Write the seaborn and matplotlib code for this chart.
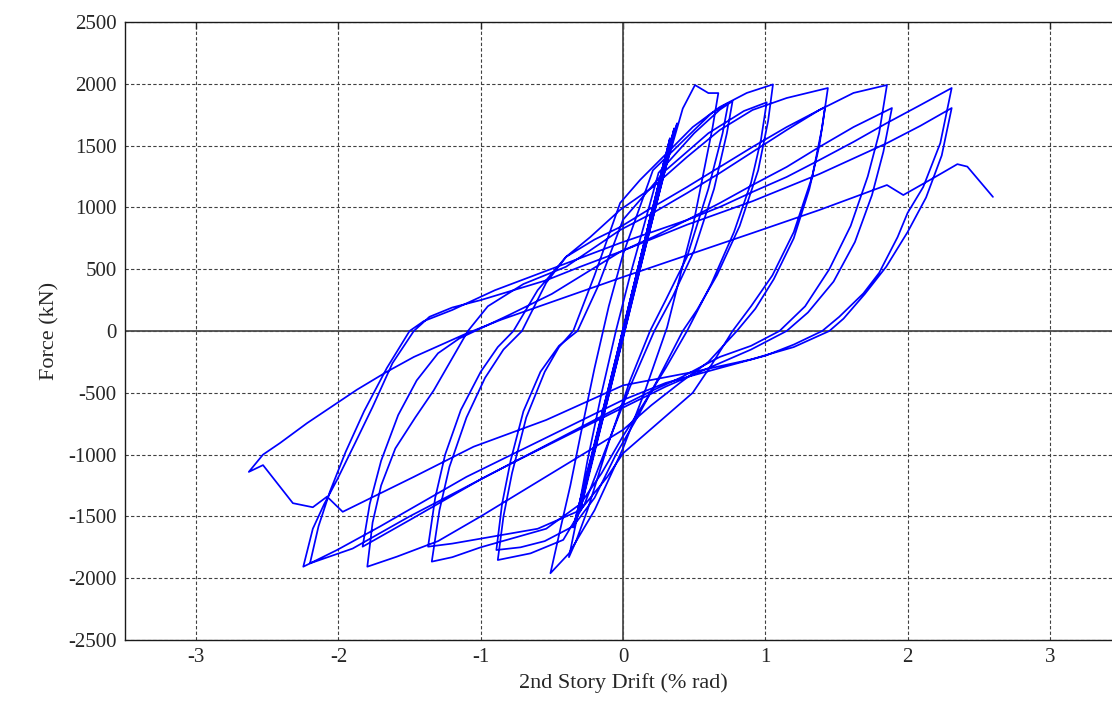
import numpy as np
import pandas as pd
import matplotlib
matplotlib.use('Agg')
import matplotlib.pyplot as plt
import seaborn as sns

# drift (% rad), force (kN), in loading order
elastic = [(0, 0), (0.12, 560), (0.09, 410), (-0.1, -470), (-0.07, -330),
           (0.2, 960), (0.16, 760), (-0.19, -900), (-0.15, -700),
           (0.29, 1380), (0.24, 1130), (-0.28, -1330), (-0.22, -1060),
           (0.33, 1560), (0.27, 1280), (-0.33, -1530), (-0.27, -1250),
           (0.36, 1640), (0.3, 1370), (-0.35, -1590), (-0.28, -1280),
           (0.38, 1680), (0.31, 1390), (-0.3, -1450), (-0.24, -1150)]

# positive excursions (reload from previous negative peak up to positive peak)
up_01 = [(-0.1, -520), (0.0, -60), (0.15, 640), (0.3, 1320), (0.42, 1800), (0.506, 1990),
         (0.6, 1925), (0.67, 1925)]
up_02 = [(-0.44, -1600), (-0.37, -1250), (-0.3, -850), (-0.2, -300), (-0.1, 200), (0.0, 620),
         (0.21, 1300), (0.45, 1570), (0.62, 1760), (0.74, 1845)]
up_03 = [(-0.33, -1550), (-0.25, -1050), (-0.15, -500), (-0.05, 0), (0.05, 450), (0.25, 1280),
         (0.5, 1600), (0.68, 1790), (0.77, 1860)]
up_04 = [(-0.84, -1500), (-0.78, -1150), (-0.68, -700), (-0.55, -330), (-0.45, -130), (-0.35, 0),
         (-0.2, 450), (-0.02, 1036), (0.12, 1222), (0.33, 1464), (0.49, 1650), (0.68, 1812),
         (0.87, 1926), (1.054, 1995)]
up_05 = [(-0.85, -1400), (-0.79, -1050), (-0.7, -650), (-0.58, -330), (-0.45, -120), (-0.32, 0),
         (-0.18, 350), (0.0, 900), (0.3, 1300), (0.6, 1600), (0.85, 1780), (1.01, 1850)]
up_06 = [(-1.29, -1450), (-1.22, -1100), (-1.1, -700), (-0.97, -380), (-0.84, -150), (-0.71, 0),
         (-0.54, 390), (-0.4, 600), (-0.23, 760), (-0.02, 980), (0.21, 1165), (0.45, 1408),
         (0.68, 1626), (0.91, 1788), (1.15, 1885), (1.44, 1966)]
up_07 = [(-1.32, -1350), (-1.25, -1000), (-1.14, -640), (-1.0, -330), (-0.88, -130), (-0.77, 0),
         (-0.6, 330), (-0.4, 600), (-0.2, 740), (-0.02, 841), (0.21, 1003), (0.45, 1165),
         (0.68, 1327), (0.91, 1489), (1.15, 1650), (1.42, 1812)]
up_08 = [(-1.76, -1550), (-1.7, -1250), (-1.6, -950), (-1.46, -700), (-1.33, -480), (-1.2, -220),
         (-1.09, 0), (-0.95, 200), (-0.7, 380), (-0.4, 520), (-0.02, 817), (0.21, 955),
         (0.45, 1116), (0.68, 1278), (0.91, 1448), (1.15, 1626), (1.38, 1788), (1.62, 1926),
         (1.855, 1990)]
up_09 = [(-1.78, -1400), (-1.7, -1050), (-1.58, -680), (-1.45, -400), (-1.3, -180), (-1.15, -60),
         (-1.04, 0), (-0.8, 130), (-0.5, 300), (-0.02, 640), (0.21, 760), (0.45, 898),
         (0.68, 1035), (0.91, 1181), (1.15, 1327), (1.38, 1489), (1.62, 1650), (1.89, 1804)]
up_10 = [(-2.14, -1580), (-2.06, -1300), (-1.95, -980), (-1.82, -650), (-1.66, -300), (-1.5, 0),
         (-1.4, 80), (-1.2, 170), (-0.9, 330), (-0.02, 712), (0.45, 898), (0.68, 1003),
         (0.91, 1125), (1.15, 1246), (1.38, 1383), (1.62, 1530), (1.855, 1683), (2.09, 1828),
         (2.31, 1966)]
up_11 = [(-2.18, -1600), (-2.1, -1400), (-2.01, -1205), (-1.88, -900), (-1.76, -615), (-1.62, -260),
         (-1.47, 0), (-1.36, 115), (-1.2, 190), (-1.0, 250), (-0.54, 410), (-0.3, 520),
         (0.0, 650), (0.45, 860), (0.91, 1050), (1.38, 1270), (1.855, 1520), (2.09, 1660),
         (2.31, 1804)]
final_push = [(-2.53, -1000), (-2.41, -906), (-2.22, -745), (-1.87, -475), (-1.66, -330),
              (-1.47, -210), (-1.1, -20), (-0.86, 90), (0.0, 437), (0.91, 793), (1.38, 979),
              (1.855, 1181), (1.97, 1100), (2.2, 1250), (2.35, 1350), (2.42, 1330), (2.6, 1085)]

# negative excursions (unload from positive peak down to negative peak)
down_01 = [(0.63, 1650), (0.56, 1245), (0.49, 840), (0.40, 440), (0.31, 30), (0.15, -500),
           (0.0, -950), (-0.2, -1450), (-0.38, -1800), (-0.51, -1960)]
down_02 = [(0.7, 1600), (0.6, 1150), (0.45, 600), (0.3, 250), (0.19, 0), (0.05, -400),
           (-0.1, -900), (-0.25, -1450), (-0.33, -1700), (-0.38, -1830)]
down_03 = [(0.73, 1600), (0.64, 1150), (0.5, 650), (0.35, 280), (0.22, 0), (0.05, -450),
           (-0.12, -950), (-0.27, -1400), (-0.42, -1690), (-0.65, -1799), (-0.88, -1853)]
down_04 = [(1.02, 1700), (0.95, 1300), (0.82, 850), (0.66, 450), (0.52, 170), (0.42, 0),
           (0.25, -380), (0.1, -700), (-0.05, -1000), (-0.2, -1350), (-0.35, -1580),
           (-0.55, -1700), (-0.72, -1750), (-0.89, -1772)]
down_05 = [(0.97, 1550), (0.9, 1200), (0.78, 800), (0.62, 380), (0.45, 0), (0.3, -300),
           (0.15, -580), (0.0, -850), (-0.15, -1150), (-0.3, -1400), (-0.54, -1600),
           (-1.0, -1750), (-1.2, -1830), (-1.344, -1866)]
down_06 = [(1.4, 1650), (1.33, 1250), (1.2, 800), (1.05, 450), (0.9, 200), (0.77, 0),
           (0.63, -260), (0.49, -500), (0.19, -800), (0.0, -990), (-0.11, -1180), (-0.3, -1450),
           (-0.6, -1600), (-1.0, -1680), (-1.2, -1720), (-1.37, -1745)]
down_07 = [(1.38, 1500), (1.31, 1150), (1.2, 750), (1.06, 420), (0.93, 180), (0.8, 0),
           (0.6, -250), (0.4, -420), (0.2, -600), (0.0, -800), (-0.5, -1150), (-1.0, -1500),
           (-1.3, -1700), (-1.59, -1826), (-1.797, -1907)]
down_08 = [(1.8, 1600), (1.72, 1250), (1.6, 850), (1.45, 500), (1.28, 200), (1.1, 0),
           (0.9, -120), (0.68, -210), (0.4, -380), (0.21, -480), (0.0, -600), (-0.5, -900),
           (-1.0, -1200), (-1.5, -1530), (-1.83, -1745)]
down_09 = [(1.83, 1450), (1.75, 1100), (1.63, 720), (1.48, 400), (1.3, 150), (1.15, 0),
           (0.9, -150), (0.6, -300), (0.3, -450), (0.0, -620), (-0.8, -1080), (-1.5, -1500),
           (-1.9, -1760), (-2.2, -1880)]
down_10 = [(2.23, 1520), (2.11, 1165), (2.0, 955), (1.93, 760), (1.8, 470), (1.69, 305),
           (1.52, 115), (1.4, 0), (1.2, -110), (1.0, -200), (0.68, -300), (0.3, -420),
           (0.0, -558), (-1.1, -1180), (-1.71, -1583), (-2.01, -1772), (-2.247, -1907)]
down_11 = [(2.24, 1420), (2.13, 1080), (2.0, 800), (1.85, 520), (1.7, 300), (1.55, 100),
           (1.45, 0), (1.2, -130), (0.9, -230), (0.5, -330), (0.0, -440), (-0.54, -720),
           (-1.05, -936), (-1.47, -1180), (-1.97, -1463), (-2.08, -1340), (-2.18, -1426),
           (-2.32, -1393), (-2.53, -1085), (-2.63, -1140)]

x_ticks = [-3, -2, -1, 0, 1, 2, 3]
y_ticks = [-2500, -2000, -1500, -1000, -500, 0, 500, 1000, 1500, 2000, 2500]

history = elastic
for up, down in [(up_01, down_01), (up_02, down_02), (up_03, down_03), (up_04, down_04),
                 (up_05, down_05), (up_06, down_06), (up_07, down_07), (up_08, down_08),
                 (up_09, down_09), (up_10, down_10), (up_11, down_11)]:
    history = history + up + down
history = history + final_push
df = pd.DataFrame(history, columns=['drift', 'force'])

sns.set_style('white')
plt.rcParams['font.family'] = ['Liberation Serif', 'DejaVu Serif']

fig = plt.figure(figsize=(11.12, 7.12), dpi=100)
ax = fig.add_axes([125 / 1112, 72 / 712, 996 / 1112, 618 / 712])

# grid + zero lines first so the curve sits on top
for xt in x_ticks:
    ax.axvline(xt, color='0.25', lw=0.8, ls=(0, (3, 2)), zorder=0)
for yt in y_ticks:
    ax.axhline(yt, color='0.25', lw=0.8, ls=(0, (3, 2)), zorder=0)
ax.axhline(0, color='0.3', lw=1.3, zorder=1)
ax.axvline(0, color='0.3', lw=1.3, zorder=1)

sns.lineplot(data=df, x='drift', y='force', sort=False, estimator=None,
             color='#0000ff', lw=1.25, ax=ax, zorder=3)

ax.set_xlim(-3.5, 3.5)
ax.set_ylim(-2500, 2500)
ax.set_xticks(x_ticks)
ax.set_yticks(y_ticks)
ax.set_xticklabels([str(v) for v in x_ticks])
ax.set_yticklabels([str(v) for v in y_ticks])
ax.tick_params(direction='in', length=5, width=1, labelsize=15, top=True, right=True,
               colors='0.15', pad=6)
ax.set_xlabel('2nd Story Drift (% rad)', fontsize=16, color='0.15', labelpad=4)
ax.set_ylabel('Force (kN)', fontsize=16, color='0.15', labelpad=6)
for s in ax.spines.values():
    s.set_color('0.1')
    s.set_linewidth(1.0)

fig.savefig('out.png', dpi=100)
